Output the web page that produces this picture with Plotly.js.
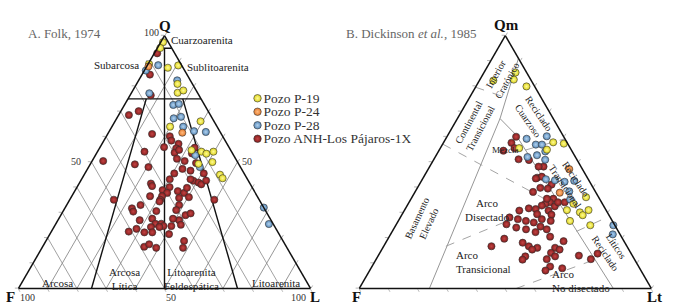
<!DOCTYPE html>
<html><head><meta charset="utf-8">
<script src="https://cdn.plot.ly/plotly-3.0.1.min.js"></script>
<style>html,body{margin:0;padding:0;background:#fff}#c{width:674px;height:307px}</style>
</head><body><div id="c"></div>
<script>
// ---------------- series ----------------
const seriesNames = ['Pozo P-19', 'Pozo P-24', 'Pozo P-28', 'Pozo ANH-Los Pájaros-1X'];
const seriesColors = ['#ded41a', '#e47a2c', '#5689ba', '#861c1c'];
const seriesCenters = ['#fffb96', '#ffbb80', '#b4d3ee', '#c24444'];

// ---------------- A. Folk (1974): Q and L (%), F = 100 - Q - L ----------------
const folkP19Q = [97.4,95.1,88.8,87.3,88.2,80.9,77.4,78.3,66.1,64.0,54.7,54.1,53.3,54.1,49.3,50.0,45.0,43.6];
const folkP19L = [0.8,1.0,0.3,7.5,10.6,14.0,15.8,17.3,29.3,19.9,31.9,35.6,37.7,39.7,37.0,41.4,46.5,48.1];
const folkP24Q = [61.6,87.8];
const folkP24L = [25.3,0.6];
const folkP28Q = [86.2,88.3,82.3,77.2,72.6,73.0,67.3,67.9,64.0,62.2,61.9,52.7,48.0,32.0,25.5];
const folkP28L = [0.5,3.7,13.2,6.2,16.7,18.4,19.5,21.7,24.4,29.0,33.2,34.2,38.1,68.0,73.0];
const folkANHQ = [93.0,84.6,76.4,68.6,70.1,61.1,60.2,58.5,55.9,54.1,
  57.2,55.4,53.7,54.8,51.3,50.4,49.1,48.0,50.4,53.4,
  49.6,45.5,45.5,43.2,47.3,46.6,42.6,41.9,41.2,43.2,
  41.5,40.5,38.9,40.1,37.8,38.5,37.8,36.5,35.1,35.8,
  36.1,36.5,35.1,35.1,33.0,31.7,30.4,33.0,34.4,30.6,
  31.0,29.0,27.0,27.6,27.0,27.6,25.6,25.6,24.7,24.3,
  24.3,22.2,24.7,21.5,22.5,23.6,22.2,25.2,16.5,17.5,
  16.1,18.8,16.1,29.7,55.7,39.8,42.7];
const folkANHL = [1.0,2.7,7.1,3.5,6.1,15.2,21.7,23.1,21.9,16.1,
  26.2,26.3,26.6,27.6,28.6,3.8,15.3,20.5,31.7,32.7,
  36.0,40.7,30.6,30.2,32.5,35.6,38.6,40.7,42.0,37.3,
  24.6,25.5,29.9,31.7,32.0,35.3,37.8,30.9,31.0,37.1,
  40.3,26.8,15.1,49.5,38.5,23.0,24.1,25.3,31.1,31.9,
  38.5,42.7,41.5,39.1,28.0,32.0,34.1,36.1,37.3,36.1,
  33.2,34.7,40.0,40.8,26.5,28.6,32.0,43.0,34.8,36.0,
  39.1,47.3,48.3,44.1,32.5,37.8,42.9];

// ---------------- B. Dickinson et al. (1985): Qm and Lt (%), F = 100 - Qm - Lt ----------------
const dickP19Qm = [85.4,82.6,82.2,79.9,57.8,57.3,55.5,54.9,36.1,33.5,31.0,30.1,29.0,31.0,26.7,25.0];
const dickP19Lt = [10.8,11.6,4.8,17.3,37.5,41.4,27.0,36.8,59.6,56.6,55.6,60.5,62.0,63.0,58.8,66.6];
const dickP24Qm = [47.2,37.9];
const dickP24Lt = [48.3,49.7];
const dickP28Qm = [59.2,56.9,56.9,60.2,54.2,52.0,52.7,50.9,43.2,42.8,42.2,42.6,38.4,35.2,25.0,21.4];
const dickP28Lt = [27.7,32.0,34.1,34.1,36.6,31.6,34.5,38.2,42.3,45.6,49.2,52.3,52.7,54.6,74.5,76.1];
const dickANHQm = [60.0,57.6,54.5,51.1,50.8,48.2,43.8,44.2,41.1,39.5,
  39.8,38.2,35.5,34.1,33.5,32.8,32.5,34.1,31.7,31.4,
  30.8,30.8,29.2,29.4,27.4,26.1,26.7,28.1,27.4,26.7,
  25.4,24.1,24.5,23.4,23.4,22.3,19.7,20.5,18.7,16.7,
  18.1,16.7,16.1,15.4,16.1,15.4,14.1,12.7,12.7,11.4,
  11.6,13.0,11.6,13.8,8.7,7.1,8.0,48.2,35.5,34.1,
  43.5,55.5];
const dickANHLt = [23.7,23.3,22.1,29.0,32.7,39.0,39.0,40.4,45.3,44.8,
  42.1,40.4,48.7,48.2,47.0,46.1,50.7,51.0,42.2,44.7,
  39.4,49.4,51.2,46.2,48.8,46.7,52.2,37.4,40.6,43.7,
  37.7,41.7,49.8,52.5,45.4,49.2,39.8,55.1,60.6,36.9,
  46.9,49.7,52.9,51.5,59.0,60.9,58.6,60.7,50.5,50.2,
  58.4,68.7,73.5,74.7,61.0,60.2,65.5,37.3,46.5,53.3,
  38.7,25.4];

// ---------------- field boundaries [top, F, side] ----------------
const folkBounds = [
  [[95,5,0],[95,0,5]],
  [[75,25,0],[75,0,25]],
  [[95,2.5,2.5],[0,50,50]],
  [[75,18.75,6.25],[0,75,25]],
  [[75,6.25,18.75],[0,25,75]]
];
const dickSolid = [
  [[91,0,9],[67.2,18.2,14.6],[0,76,24]],
  [[67.2,18.2,14.6],[60.9,16,23.1],[0,13,87]]
];
const dickDashed = [
  [[79.6,20.4,0],[75.4,11.9,12.7]],
  [[57.1,42.9,0],[32.2,15.2,52.6]],
  [[54.7,15.9,29.4],[59.2,0,40.8]],
  [[22.6,14.3,63.1],[28.6,0,71.4]],
  [[16.7,62,21.3],[27.4,34.1,38.5]],
  [[0,46.3,53.7],[11.4,13.7,74.9]]
];

const tickVals = [0,10,20,30,40,50,60,70,80,90,100];
const SERIF = 'Liberation Serif, Times New Roman, serif';

// ---------------- build ----------------
const W = 674, H = 307;
const px = (x, y) => ({x: x / W, y: 1 - y / H});

function ptTrace(sub, q, l, i) {
  return {
    type: 'scatterternary', subplot: sub, mode: 'markers',
    a: q, c: l, sum: 100, hoverinfo: 'skip', showlegend: false, cliponaxis: false,
    marker: {size: 7.2, color: seriesColors[i],
      gradient: {type: 'radial', color: seriesCenters[i]},
      line: {color: '#333', width: 0.6}}
  };
}
function lineTrace(sub, seg, color, width, dash) {
  return {
    type: 'scatterternary', subplot: sub, mode: 'lines',
    a: seg.map(p => p[0]), b: seg.map(p => p[1]), c: seg.map(p => p[2]),
    hoverinfo: 'skip', showlegend: false,
    line: {color: color, width: width, dash: dash || 'solid'}
  };
}

const data = [];
folkBounds.forEach(s => data.push(lineTrace('ternary', s, '#111', 1.4)));
dickSolid.forEach(s => data.push(lineTrace('ternary2', s, '#8a8a8a', 0.9)));
dickDashed.forEach(s => data.push(lineTrace('ternary2', s, '#9a9a9a', 0.9, 'dash')));

data.push(ptTrace('ternary', folkANHQ, folkANHL, 3));
data.push(ptTrace('ternary', folkP28Q, folkP28L, 2));
data.push(ptTrace('ternary', folkP19Q, folkP19L, 0));
data.push(ptTrace('ternary', folkP24Q, folkP24L, 1));
data.push(ptTrace('ternary2', dickANHQm, dickANHLt, 3));
data.push(ptTrace('ternary2', dickP28Qm, dickP28Lt, 2));
data.push(ptTrace('ternary2', dickP19Qm, dickP19Lt, 0));
data.push(ptTrace('ternary2', dickP24Qm, dickP24Lt, 1));

// legend drawn as a categorical axis
data.push({
  type: 'scatter', mode: 'markers', xaxis: 'x', yaxis: 'y',
  x: seriesNames.map(() => 0), y: seriesNames, hoverinfo: 'skip', showlegend: false,
  marker: {size: 7.5, color: seriesColors,
    gradient: {type: 'radial', color: seriesCenters},
    line: {color: '#333', width: 0.6}}
});

function folkAxis(grid) {
  return {
    title: {text: ''}, min: 0,
    showline: true, linecolor: '#111', linewidth: 1.5,
    showgrid: grid, gridcolor: '#8a8a8a', gridwidth: 0.8,
    ticks: 'outside', ticklen: 3, tickcolor: '#aaa', tickwidth: 0.8,
    tickmode: 'array', tickvals: tickVals, showticklabels: false
  };
}
function dickAxis() {
  return {
    title: {text: ''}, min: 0,
    showline: true, linecolor: '#111', linewidth: 1.5, showgrid: false,
    ticks: 'outside', ticklen: 3, tickcolor: '#aaa', tickwidth: 0.8,
    tickmode: 'array', tickvals: tickVals, showticklabels: false
  };
}

const ann = [];
function label(text, x, y, size, opts) {
  const p = px(x, y);
  ann.push(Object.assign({text: text, x: p.x, y: p.y, xref: 'paper', yref: 'paper',
    showarrow: false, font: {family: SERIF, size: size, color: '#222'},
    xanchor: 'center', yanchor: 'middle', borderpad: 0}, opts || {}));
}
const bold = (s) => ({font: {family: SERIF, size: s, color: '#111', weight: 'bold'}});
const num = {font: {family: SERIF, size: 10, color: '#333'}};

// titles
label('A. Folk, 1974', 27, 33, 13, {xanchor: 'left', font: {family: SERIF, size: 13, color: '#666'}});
label('B. Dickinson <i>et al.</i>, 1985', 345, 33, 13, {xanchor: 'left', font: {family: SERIF, size: 13, color: '#666'}});

// Folk axis titles and scale numbers
label('Q', 165, 25.5, 15, bold(15));
label('F', 10, 296.5, 15, bold(15));
label('L', 315, 296.5, 15, bold(15));
label('100', 151.5, 32.5, 10, num);
label('50', 76, 161, 10, num);
label('50', 246.5, 161, 10, num);
label('100', 27, 297.5, 10, num);
label('50', 171.3, 297.5, 10, num);
label('100', 298.3, 297.5, 10, num);

// Folk fields
label('Cuarzoarenita', 201.5, 39.7, 11);
label('Subarcosa', 116.5, 65.4, 11);
label('Sublitoarenita', 217.5, 66.5, 11);
label('Arcosa', 57.5, 283, 11);
label('Arcosa<br>Lítica', 124, 278.5, 11);
label('Litoarenita<br>Feldespática', 191.6, 278.5, 11);
label('Litoarenita', 276.2, 283, 11);

// Dickinson axis titles
label('Qm', 506, 24.5, 15, bold(15));
label('F', 356, 296.5, 15, bold(15));
label('Lt', 654.6, 296.5, 15, bold(15));

// Dickinson fields
label('Interior<br>Cratónico', 501, 78, 10, {textangle: -61});
label('Continental<br>Transicional', 475, 125.5, 10, {textangle: -62});
label('Reciclado<br>Cuarzoso', 533, 117.5, 10, {textangle: 56});
label('Mezcla', 505, 150, 9);
label('Reciclado<br>Transicional', 570.8, 182.6, 10, {textangle: 56});
label('Arco<br>Disectado', 486.6, 210, 11);
label('Basamento<br>Elevado', 422.9, 221.2, 10, {textangle: -65});
label('Arco<br>Transicional', 454.8, 261.8, 11, {xanchor: 'left', align: 'left'});
label('Arco<br>No disectado', 551.3, 280.6, 11, {xanchor: 'left', align: 'left'});
label('Líticos<br>Reciclado', 611, 249.6, 10, {textangle: 56});

const layout = {
  width: W, height: H, margin: {l: 0, r: 0, t: 0, b: 0},
  paper_bgcolor: '#fff', plot_bgcolor: 'rgba(0,0,0,0)', showlegend: false,
  font: {family: SERIF, color: '#222'},
  ternary: {
    sum: 100, bgcolor: 'rgba(0,0,0,0)',
    domain: {x: [18.5 / W, 310.5 / W], y: [1 - 288.5 / H, 1 - 35.6 / H]},
    aaxis: folkAxis(false), baxis: folkAxis(true), caxis: folkAxis(true)
  },
  ternary2: {
    sum: 100, bgcolor: 'rgba(0,0,0,0)',
    domain: {x: [359.3 / W, 651.3 / W], y: [1 - 288.5 / H, 1 - 35.6 / H]},
    aaxis: dickAxis(), baxis: dickAxis(), caxis: dickAxis()
  },
  xaxis: {domain: [252.5 / W, 262.5 / W], range: [-1, 1], visible: false, fixedrange: true},
  yaxis: {domain: [1 - 145.5 / H, 1 - 91.5 / H], type: 'category', range: [3.5, -0.5],
    tickmode: 'linear', tick0: 0, dtick: 1,
    side: 'right', showgrid: false, zeroline: false, showline: false, ticks: '',
    tickfont: {family: SERIF, size: 13.5, color: '#333'}, fixedrange: true},
  annotations: ann
};

Plotly.newPlot('c', data, layout, {staticPlot: true, displayModeBar: false});
</script>
</body></html>
